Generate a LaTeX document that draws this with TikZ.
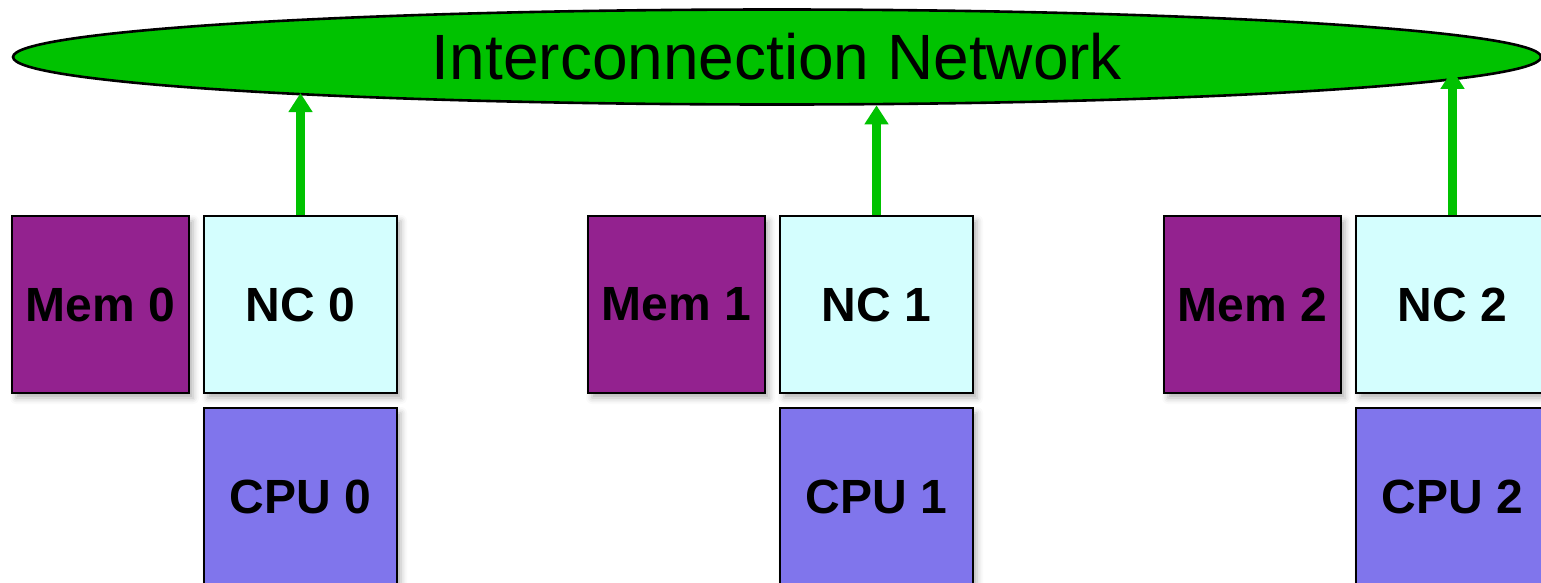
\documentclass[tikz,border=0pt]{standalone}
\usepackage{fontspec}
\setmainfont{Liberation Sans}
\usetikzlibrary{shapes.geometric,arrows.meta,shadows.blur}
\definecolor{netgreen}{RGB}{0,194,0}
\definecolor{memcol}{RGB}{147,34,143}
\definecolor{nccol}{RGB}{212,254,254}
\definecolor{cpucol}{RGB}{128,117,236}
\tikzset{
  box/.style={draw=black, line width=2.6pt, inner sep=0pt, minimum height=177pt,
    font=\fontsize{48}{56}\selectfont\bfseries,
    blur shadow={shadow xshift=4pt, shadow yshift=-5pt, shadow blur radius=6pt, shadow opacity=30}},
  membox/.style={box, fill=memcol, minimum width=177pt},
  ncbox/.style={box, fill=nccol, minimum width=193pt},
  cpubox/.style={box, fill=cpucol, minimum width=193pt},
  netlink/.style={draw=netgreen, line width=8.5pt, -{Triangle[width=23pt,length=19pt]}},
}
\begin{document}
\begin{tikzpicture}[x=1pt,y=-1pt]
\useasboundingbox (0,0) rectangle (1541,582);
\clip (0,0) rectangle (1541,582);
\node[ellipse, draw=black, line width=2.6pt, fill=netgreen, inner sep=0pt,
      minimum width=1528pt, minimum height=95pt,
      font=\fontsize{64}{76}\selectfont] (net) at (777,57) {Interconnection Network};
\foreach \k in {0,1,2}{
  \node[membox] (mem\k) at (100.5+576*\k,304.5) {Mem \k};
  \node[ncbox]  (nc\k)  at (300.5+576*\k,304.5) {NC \k};
  \node[cpubox] (cpu\k) at (300.5+576*\k,496.5) {CPU \k};
}
\draw[netlink] (nc0.north) -- (nc0.north |- net.184.45);
\draw[netlink] (nc1.north) -- (nc1.north |- net.-25.22);
\draw[netlink] (nc2.north) -- (nc2.north |- net.-1.875);
\end{tikzpicture}
\end{document}
